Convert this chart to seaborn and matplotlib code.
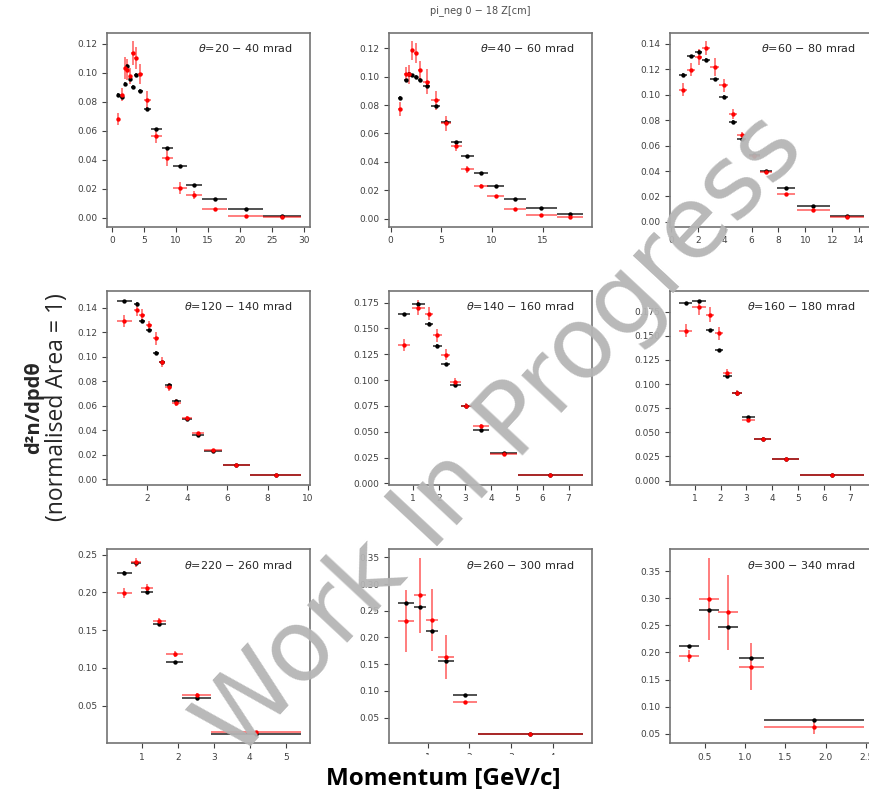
import pandas as pd
import seaborn as sns
import matplotlib
matplotlib.use('Agg')
import matplotlib.pyplot as plt
from matplotlib.ticker import MaxNLocator

# angle bins of the nine panels (mrad)
theta_lo = [20, 40, 60, 120, 140, 160, 220, 260, 300]
theta_hi = [40, 60, 80, 140, 160, 180, 260, 300, 340]

# panel 1 : 20-40 mrad
p1_x = [0.94, 1.47, 1.99, 2.36, 2.78, 3.2, 3.78, 4.4, 5.5, 6.92, 8.65, 10.6, 12.85, 16.05, 20.9, 26.6]
p1_xerr = [0.25, 0.25, 0.22, 0.2, 0.2, 0.25, 0.3, 0.35, 0.5, 0.84, 0.9, 1.05, 1.25, 2.0, 2.75, 3.0]
p1_black = [0.0851, 0.0834, 0.0926, 0.1048, 0.0961, 0.0903, 0.0986, 0.0878, 0.0752, 0.0614, 0.0483, 0.0361, 0.0228, 0.0133, 0.0060, 0.0014]
p1_black_err = [0.0012, 0.0012, 0.0012, 0.0013, 0.0012, 0.0012, 0.0012, 0.0011, 0.001, 0.0009, 0.0008, 0.0006, 0.0005, 0.0004, 0.0002, 0.0001]
p1_red = [0.0683, 0.0851, 0.1034, 0.1023, 0.0980, 0.1138, 0.1101, 0.0991, 0.0811, 0.0568, 0.0416, 0.0205, 0.0159, 0.0060, 0.0011, 0.0005]
p1_red_err = [0.004, 0.0046, 0.0078, 0.0074, 0.0057, 0.008, 0.0075, 0.007, 0.0063, 0.0052, 0.0057, 0.0043, 0.0026, 0.001, 0.0005, 0.0003]

# panel 2 : 40-60 mrad
p2_x = [0.93, 1.5, 1.86, 2.16, 2.49, 2.89, 3.59, 4.46, 5.45, 6.48, 7.58, 8.91, 10.38, 12.3, 14.9, 17.7]
p2_xerr = [0.2, 0.2, 0.17, 0.15, 0.17, 0.22, 0.35, 0.45, 0.5, 0.55, 0.63, 0.7, 0.83, 1.08, 1.56, 1.25]
p2_black = [0.0849, 0.0973, 0.1017, 0.1008, 0.0996, 0.0975, 0.0935, 0.0792, 0.0684, 0.0539, 0.0441, 0.0321, 0.0232, 0.0141, 0.0077, 0.0033]
p2_black_err = [0.0012, 0.0013, 0.0013, 0.0013, 0.0013, 0.0012, 0.0012, 0.0011, 0.001, 0.0009, 0.0008, 0.0006, 0.0005, 0.0004, 0.0003, 0.0002]
p2_red = [0.0773, 0.1020, 0.1015, 0.1184, 0.1167, 0.1048, 0.0963, 0.0832, 0.0673, 0.0509, 0.0349, 0.0232, 0.0159, 0.0066, 0.0028, 0.0012]
p2_red_err = [0.0048, 0.0047, 0.0064, 0.0064, 0.007, 0.0064, 0.0088, 0.0064, 0.0053, 0.0035, 0.0025, 0.0015, 0.001, 0.0007, 0.0005, 0.0004]

# panel 3 : 60-80 mrad
p3_x = [0.92, 1.52, 2.07, 2.6, 3.24, 3.92, 4.62, 5.27, 6.21, 7.05, 8.56, 10.6, 13.1]
p3_xerr = [0.3, 0.3, 0.27, 0.27, 0.32, 0.35, 0.33, 0.33, 0.4, 0.45, 0.7, 1.25, 1.25]
p3_black = [0.1158, 0.1300, 0.1339, 0.1274, 0.1121, 0.0984, 0.0787, 0.0650, 0.0524, 0.0397, 0.0263, 0.0126, 0.0050]
p3_black_err = [0.0012, 0.0013, 0.0013, 0.0013, 0.0012, 0.0011, 0.001, 0.0009, 0.0008, 0.0007, 0.0006, 0.0004, 0.0003]
p3_red = [0.1039, 0.1197, 0.1295, 0.1366, 0.1216, 0.1074, 0.0850, 0.0684, 0.0520, 0.0389, 0.0218, 0.0092, 0.0037]
p3_red_err = [0.0053, 0.0053, 0.006, 0.0053, 0.0072, 0.0051, 0.0038, 0.002, 0.0015, 0.001, 0.0008, 0.0005, 0.0004]

# panel 4 : 120-140 mrad
p4_x = [0.87, 1.49, 1.78, 2.1, 2.43, 2.75, 3.08, 3.47, 3.97, 4.52, 5.3, 6.44, 8.39]
p4_xerr = [0.37, 0.12, 0.15, 0.15, 0.15, 0.16, 0.17, 0.2, 0.25, 0.3, 0.45, 0.68, 1.27]
p4_black = [0.1454, 0.1432, 0.1294, 0.1217, 0.1034, 0.0953, 0.0765, 0.0641, 0.0495, 0.0361, 0.0232, 0.0116, 0.0032]
p4_black_err = [0.0012, 0.0012, 0.0012, 0.0011, 0.0011, 0.001, 0.001, 0.0009, 0.0008, 0.0007, 0.0006, 0.0004, 0.0003]
p4_red = [0.1294, 0.1378, 0.1338, 0.1257, 0.1149, 0.0956, 0.0754, 0.0625, 0.0501, 0.0374, 0.0240, 0.0116, 0.0032]
p4_red_err = [0.005, 0.0047, 0.0047, 0.0036, 0.005, 0.004, 0.003, 0.003, 0.0015, 0.0012, 0.001, 0.0007, 0.0005]

# panel 5 : 140-160 mrad
p5_x = [0.65, 1.19, 1.6, 1.93, 2.26, 2.63, 3.05, 3.62, 4.49, 6.3]
p5_xerr = [0.24, 0.25, 0.15, 0.17, 0.17, 0.2, 0.22, 0.31, 0.52, 1.24]
p5_black = [0.1637, 0.1740, 0.1547, 0.1331, 0.1154, 0.0957, 0.0748, 0.0519, 0.0297, 0.0081]
p5_black_err = [0.0015, 0.0016, 0.0015, 0.0014, 0.0013, 0.0012, 0.001, 0.0009, 0.0007, 0.0004]
p5_red = [0.1337, 0.1702, 0.1644, 0.1434, 0.1247, 0.0980, 0.0754, 0.0554, 0.0290, 0.0081]
p5_red_err = [0.0056, 0.0077, 0.006, 0.0064, 0.0056, 0.004, 0.002, 0.002, 0.0012, 0.0008]

# panel 6 : 160-180 mrad
p6_x = [0.65, 1.17, 1.6, 1.94, 2.26, 2.62, 3.06, 3.62, 4.51, 6.3]
p6_xerr = [0.25, 0.27, 0.15, 0.16, 0.16, 0.2, 0.25, 0.33, 0.52, 1.24]
p6_black = [0.1839, 0.1860, 0.1558, 0.1353, 0.1089, 0.0904, 0.0658, 0.0435, 0.0223, 0.0055]
p6_black_err = [0.0016, 0.0016, 0.0015, 0.0014, 0.0013, 0.0012, 0.001, 0.0008, 0.0006, 0.0003]
p6_red = [0.1555, 0.1795, 0.1719, 0.1527, 0.1120, 0.0904, 0.0630, 0.0435, 0.0223, 0.0055]
p6_red_err = [0.0065, 0.0077, 0.0077, 0.0065, 0.004, 0.003, 0.002, 0.0015, 0.001, 0.0007]

# panel 7 : 220-260 mrad
p7_x = [0.51, 0.84, 1.14, 1.49, 1.91, 2.53, 4.17]
p7_xerr = [0.21, 0.15, 0.17, 0.18, 0.23, 0.4, 1.26]
p7_black = [0.2262, 0.2385, 0.2001, 0.1577, 0.1083, 0.0606, 0.0129]
p7_black_err = [0.0015, 0.0015, 0.0014, 0.0013, 0.0011, 0.0009, 0.0005]
p7_red = [0.1992, 0.2398, 0.2054, 0.1626, 0.1184, 0.0646, 0.0151]
p7_red_err = [0.0071, 0.006, 0.006, 0.004, 0.004, 0.002, 0.001]

# panel 8 : 260-300 mrad
p8_x = [0.48, 0.82, 1.1, 1.44, 1.9, 3.47]
p8_xerr = [0.19, 0.15, 0.14, 0.19, 0.29, 1.25]
p8_black = [0.2648, 0.2567, 0.2122, 0.1565, 0.0926, 0.0199]
p8_black_err = [0.002, 0.002, 0.002, 0.0018, 0.0014, 0.0008]
p8_red = [0.2304, 0.2792, 0.2323, 0.1627, 0.0794, 0.0199]
p8_red_err = [0.058, 0.07, 0.058, 0.041, 0.002, 0.001]

# panel 9 : 300-340 mrad
p9_x = [0.31, 0.554, 0.794, 1.08, 1.854]
p9_xerr = [0.124, 0.124, 0.124, 0.155, 0.617]
p9_black = [0.2112, 0.2784, 0.2461, 0.1888, 0.0755]
p9_black_err = [0.002, 0.002, 0.002, 0.002, 0.0015]
p9_red = [0.1938, 0.2990, 0.2740, 0.1739, 0.0631]
p9_red_err = [0.0115, 0.0756, 0.069, 0.044, 0.014]

panels = [
    (p1_x, p1_xerr, p1_black, p1_black_err, p1_red, p1_red_err),
    (p2_x, p2_xerr, p2_black, p2_black_err, p2_red, p2_red_err),
    (p3_x, p3_xerr, p3_black, p3_black_err, p3_red, p3_red_err),
    (p4_x, p4_xerr, p4_black, p4_black_err, p4_red, p4_red_err),
    (p5_x, p5_xerr, p5_black, p5_black_err, p5_red, p5_red_err),
    (p6_x, p6_xerr, p6_black, p6_black_err, p6_red, p6_red_err),
    (p7_x, p7_xerr, p7_black, p7_black_err, p7_red, p7_red_err),
    (p8_x, p8_xerr, p8_black, p8_black_err, p8_red, p8_red_err),
    (p9_x, p9_xerr, p9_black, p9_black_err, p9_red, p9_red_err),
]

sns.set_theme(style='ticks')

fig, axes = plt.subplots(3, 3, figsize=(8.7, 7.89), dpi=100)
fig.subplots_adjust(left=0.1235, right=1.0035, top=0.9588, bottom=0.0583,
                    wspace=0.386, hspace=0.331)

for i, ax in enumerate(axes.flat):
    x, xerr, yb, yb_err, yr, yr_err = panels[i]
    df = pd.DataFrame({'p': x, 'black': yb, 'red': yr})

    # black series
    ax.errorbar(x, yb, xerr=xerr, yerr=yb_err, fmt='none',
                ecolor='black', elinewidth=1.2, alpha=0.8)
    sns.scatterplot(data=df, x='p', y='black', color='black', s=10,
                    linewidth=0, ax=ax, zorder=3)

    # red series
    ax.errorbar(x, yr, xerr=xerr, yerr=yr_err, fmt='none',
                ecolor='red', elinewidth=1.3, alpha=0.55)
    sns.scatterplot(data=df, x='p', y='red', color='red', s=10,
                    linewidth=0, ax=ax, zorder=4)

    ax.set_xlabel('')
    ax.set_ylabel('')
    ax.xaxis.set_major_locator(MaxNLocator(nbins=8, steps=[1, 2, 2.5, 5, 10]))
    ax.text(0.915, 0.95, rf'$\theta$={theta_lo[i]} $-$ {theta_hi[i]} mrad',
            transform=ax.transAxes, ha='right', va='top', fontsize=8,
            color='0.15')

    ax.tick_params(labelsize=6.5, length=3.5, width=0.8, colors='0.25')
    for s in ax.spines.values():
        s.set_color('0.45')
        s.set_linewidth(1.2)

# partly cut title at the top
fig.text(0.552, 1 - 13.5 / 789, 'pi_neg 0 \u2212 18 Z[cm]', ha='center',
         va='baseline', fontsize=7, color='0.3')

# axis labels of the whole figure
fig.text(0.509, 1 - 785 / 789, 'Momentum [GeV/c]', ha='center', va='baseline',
         fontsize=17.5, fontweight='bold', family='Open Sans', color='black',
         bbox=dict(facecolor='white', edgecolor='none', pad=9))
fig.text(34 / 870, 0.483, 'd\u00b2n/dpd\u03b8', rotation=90, ha='center',
         va='center', fontsize=14.5, fontweight='bold', family='Open Sans')
fig.text(57 / 870, 0.484, '(normalised Area = 1)', rotation=90, ha='center',
         va='center', fontsize=16.5, family='Open Sans')

# watermark
fig.text(0.577, 0.446, 'Work In Progress', rotation=47, ha='center',
         va='center', fontsize=72, color='0.71', alpha=0.95,
         rotation_mode='anchor')

fig.savefig('out.png', dpi=100)
